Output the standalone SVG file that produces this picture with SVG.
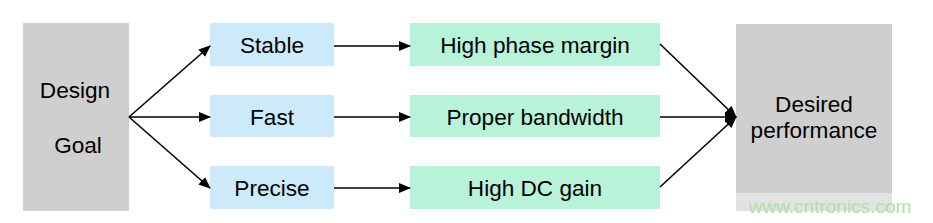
<svg xmlns="http://www.w3.org/2000/svg" width="933" height="223" viewBox="0 0 933 223">
<style>
text{font-family:"Liberation Sans",Arial,sans-serif;font-size:22.6px;fill:#000;text-anchor:middle}
.gray{fill:#d0cfd0}
.blue{fill:#cdeafb}
.green{fill:#b8f2d9}
.c{stroke:#000;stroke-width:1.6;fill:none;marker-end:url(#ah)}
</style>
<defs>
<marker id="ah" markerWidth="12" markerHeight="10" refX="11" refY="5" orient="auto" markerUnits="userSpaceOnUse">
<path d="M0,0 L12,5 L0,10 Z" fill="#000"/>
</marker>
</defs>
<rect width="933" height="223" fill="#fff"/>
<g id="design-goal">
<rect class="gray" x="23" y="23" width="106" height="188"/>
<text x="75" y="98">Design</text>
<text x="78" y="153">Goal</text>
</g>
<g id="stable"><rect class="blue" x="210" y="23" width="124" height="43"/><text x="272" y="53">Stable</text></g>
<g id="fast"><rect class="blue" x="210" y="95" width="124" height="42"/><text x="272" y="125">Fast</text></g>
<g id="precise"><rect class="blue" x="210" y="166" width="124" height="43"/><text x="272" y="196">Precise</text></g>
<g id="phase"><rect class="green" x="410" y="23" width="250" height="43"/><text x="535" y="53">High phase margin</text></g>
<g id="bandwidth"><rect class="green" x="410" y="95" width="250" height="42"/><text x="535" y="125">Proper bandwidth</text></g>
<g id="dcgain"><rect class="green" x="410" y="166" width="250" height="43"/><text x="535" y="196">High DC gain</text></g>
<g id="desired">
<rect class="gray" x="736" y="24" width="156" height="187"/>
<text x="814" y="112">Desired</text>
<text x="814" y="138">performance</text>
</g>
<g id="connectors">
<path class="c" d="M129,117 L210,46"/>
<path class="c" d="M129,117 L210,117"/>
<path class="c" d="M129,117 L210,188"/>
<path class="c" d="M334,46 L410,46"/>
<path class="c" d="M334,117 L410,117"/>
<path class="c" d="M334,188 L410,188"/>
<path class="c" d="M660,44 L736,117"/>
<path class="c" d="M660,117 L736,117"/>
<path class="c" d="M660,187 L736,117"/>
</g>
<rect x="736" y="193" width="197" height="18" fill="#fff" opacity="0.4"/>
<text x="830" y="213" style="font-size:19px;fill:#b4dcac">www.cntronics.com</text>
</svg>
